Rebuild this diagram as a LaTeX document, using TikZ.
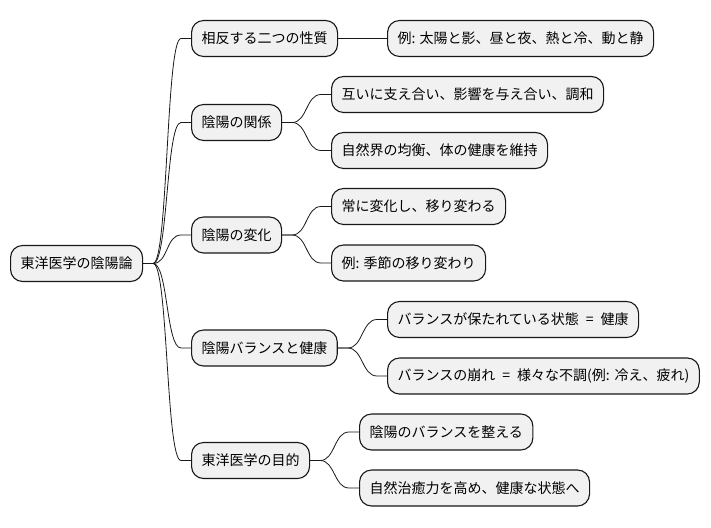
\documentclass[tikz,border=0pt]{standalone}
\usepackage{fontspec}
\setmainfont{Noto Sans CJK JP}
\usepackage{tikz}
\usetikzlibrary{calc}
\definecolor{nodefill}{HTML}{F1F1F1}
\definecolor{ink}{HTML}{181818}
\newcommand{\eqsign}{\hspace{0.5em}=\hspace{0.5em}}
\tikzset{
  topic/.style={draw=ink,fill=nodefill,line width=1.1pt,rounded corners=12pt,inner xsep=10pt,inner ysep=0pt,minimum height=36pt,anchor=west,font=\fontsize{14pt}{16pt}\selectfont,text=black},
  edge/.style={draw=ink,line width=0.8pt},
}
\begin{document}
\begin{tikzpicture}[x=1pt,y=-1pt]
    \useasboundingbox (0,0) rectangle (711,527);
    % root and first level
    \node[topic] (root) at (10,263.5) {東洋医学の陰陽論};
    \node[topic] (nature) at (191,38.5) {相反する二つの性質};
    \node[topic] (relation) at (191,122.5) {陰陽の関係};
    \node[topic] (change) at (191,235) {陰陽の変化};
    \node[topic] (balance) at (191,348) {陰陽バランスと健康};
    \node[topic] (purpose) at (191,460.5) {東洋医学の目的};
    % second level
    \node[topic] (natureEx) at (387,38.5) {例: 太陽と影、昼と夜、熱と冷、動と静};
    \node[topic] (rel1) at (331,94.5) {互いに支え合い、影響を与え合い、調和};
    \node[topic] (rel2) at (331,150.5) {自然界の均衡、体の健康を維持};
    \node[topic] (chg1) at (331,206.5) {常に変化し、移り変わる};
    \node[topic] (chg2) at (331,263) {例: 季節の移り変わり};
    \node[topic] (bal1) at (387,319.5) {バランスが保たれている状態\eqsign 健康};
    \node[topic] (bal2) at (387,376) {バランスの崩れ\eqsign 様々な不調(例:\hspace{0.35em}冷え、疲れ)};
    \node[topic] (pur1) at (359,432) {陰陽のバランスを整える};
    \node[topic] (pur2) at (359,488) {自然治癒力を高め、健康な状態へ};
    \foreach \p/\c in {root/nature,root/relation,root/change,root/balance,root/purpose,
                       nature/natureEx,relation/rel1,relation/rel2,change/chg1,change/chg2,
                       balance/bal1,balance/bal2,purpose/pur1,purpose/pur2}
      \draw[edge] (\p.east) -- ($(\p.east)+(10pt,0)$)
        .. controls ($(\p.east)+(25pt,0)$) and ($(\c.west)+(-25pt,0)$) .. ($(\c.west)+(-10pt,0)$)
        -- (\c.west);
\end{tikzpicture}
\end{document}
